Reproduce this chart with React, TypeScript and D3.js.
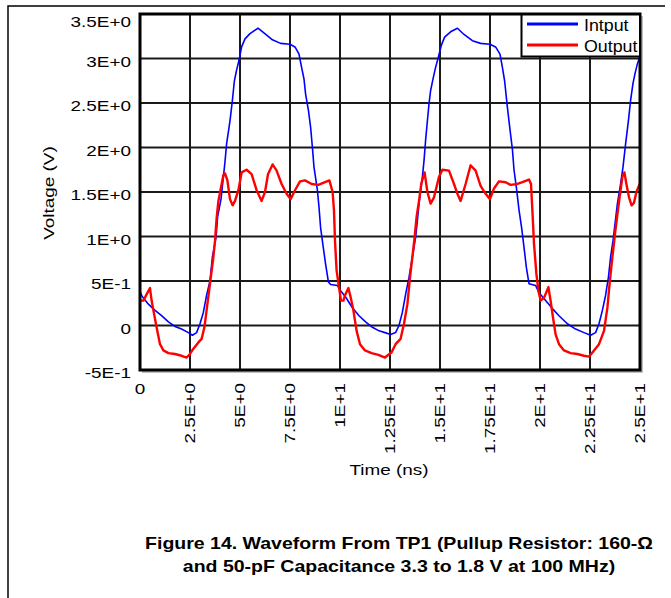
import React, { useEffect, useRef } from 'react';
import * as d3 from 'd3';

// Input waveform (ns, V)
const inputTime = [
  0, 0.1, 0.42, 0.75, 1.08, 1.42, 1.75, 2.08, 2.42, 2.62, 2.83, 3.0, 3.17, 3.33, 3.5, 3.62, 3.8, 3.88,
  4.05, 4.17, 4.25, 4.33, 4.5, 4.62, 4.72, 4.83, 4.95, 5.08, 5.25, 5.5, 5.9, 6.35, 6.62, 7.03, 7.5, 7.75,
  7.95, 8.08, 8.2, 8.28, 8.42, 8.53, 8.62, 8.7, 8.87, 8.95, 9.03, 9.15, 9.28, 9.42, 9.53, 9.87, 10.03,
  10.28, 10.62, 10.95, 11.28, 11.62, 11.95, 12.25, 12.53, 12.78, 12.95, 13.12, 13.28, 13.45, 13.62, 13.78,
  13.87, 13.95, 14.12, 14.2, 14.28, 14.37, 14.45, 14.53, 14.67, 14.78, 14.9, 15.07, 15.23, 15.53, 15.87,
  16.2, 16.62, 17.03, 17.5, 17.78, 18.0, 18.12, 18.23, 18.37, 18.5, 18.62, 18.7, 18.82, 18.95, 19.08,
  19.2, 19.32, 19.45, 19.78, 19.95, 20.28, 20.62, 20.95, 21.37, 21.78, 22.2, 22.53, 22.78, 22.95, 23.12,
  23.28, 23.42, 23.53, 23.65, 23.75, 23.87, 24.03, 24.15, 24.28, 24.42, 24.53, 24.65, 24.75, 24.87, 25.0,
];
const inputVolt = [
  0.38, 0.33, 0.24, 0.17, 0.11, 0.04, -0.01, -0.04, -0.08, -0.11, -0.08, 0.02, 0.15, 0.34, 0.5, 0.77, 0.99, 1.22,
  1.42, 1.67, 1.84, 2.04, 2.3, 2.53, 2.75, 2.87, 2.98, 3.13, 3.22, 3.28, 3.34, 3.26, 3.21, 3.17, 3.16, 3.13,
  3.05, 2.9, 2.77, 2.6, 2.42, 2.23, 2.0, 1.78, 1.52, 1.33, 1.1, 0.9, 0.69, 0.49, 0.46, 0.45, 0.39,
  0.32, 0.2, 0.11, 0.04, -0.02, -0.06, -0.08, -0.1, -0.08, 0.0, 0.15, 0.35, 0.54, 0.77, 0.99,
  1.18, 1.37, 1.67, 1.85, 2.08, 2.3, 2.49, 2.64, 2.79, 2.9, 3.0, 3.15, 3.24, 3.3, 3.34,
  3.27, 3.2, 3.17, 3.16, 3.13, 3.05, 2.9, 2.75, 2.45, 2.2, 1.98, 1.75, 1.55, 1.3, 1.1,
  0.88, 0.65, 0.47, 0.45, 0.37, 0.28, 0.19, 0.11, 0.02, -0.04, -0.08, -0.11, -0.08, 0.02, 0.17,
  0.34, 0.54, 0.77, 0.95, 1.14, 1.37, 1.59, 1.78, 2.04, 2.3, 2.53, 2.72, 2.83, 2.94, 3.02,
];

// Output waveform (ns, V)
const outputTime = [
  0, 0.17, 0.33, 0.5, 0.58, 0.67, 0.83, 1.0, 1.17, 1.42, 1.75, 2.08, 2.33, 2.5, 2.67, 2.92, 3.08, 3.22,
  3.33, 3.5, 3.67, 3.75, 3.83, 3.92, 4.05, 4.17, 4.25, 4.37, 4.5, 4.63, 4.75, 4.92, 5.08, 5.33, 5.58,
  5.83, 6.08, 6.25, 6.4, 6.63, 6.83, 7.08, 7.33, 7.53, 7.75, 8.0, 8.25, 8.58, 8.92, 9.25, 9.47, 9.63,
  9.7, 9.75, 9.83, 9.95, 10.05, 10.17, 10.25, 10.42, 10.53, 10.67, 10.83, 11.0, 11.25, 11.58, 11.92,
  12.25, 12.58, 12.78, 13.03, 13.2, 13.37, 13.5, 13.62, 13.73, 13.83, 13.95, 14.07, 14.23, 14.37, 14.53,
  14.7, 14.95, 15.12, 15.45, 15.7, 15.87, 16.03, 16.28, 16.53, 16.78, 17.03, 17.28, 17.5, 17.7, 17.95,
  18.28, 18.53, 18.87, 19.12, 19.45, 19.55, 19.62, 19.7, 19.82, 19.92, 20.03, 20.2, 20.42, 20.53, 20.65,
  20.78, 20.95, 21.2, 21.53, 21.87, 22.2, 22.45, 22.7, 22.95, 23.2, 23.37, 23.48, 23.62, 23.75, 23.87,
  23.98, 24.12, 24.22, 24.32, 24.45, 24.58, 24.7, 24.82, 25.0,
];
const outputVolt = [
  0.28, 0.28, 0.35, 0.42, 0.28, 0.17, -0.02, -0.21, -0.28, -0.31, -0.32, -0.34, -0.36, -0.32, -0.26, -0.19, -0.15, -0.02,
  0.17, 0.47, 0.77, 0.95, 1.2, 1.4, 1.55, 1.69, 1.71, 1.63, 1.42, 1.35, 1.4, 1.52, 1.72, 1.75, 1.7,
  1.52, 1.4, 1.5, 1.7, 1.81, 1.74, 1.59, 1.48, 1.42, 1.52, 1.62, 1.63, 1.59, 1.58, 1.61, 1.63, 1.5,
  1.29, 0.95, 0.62, 0.43, 0.28, 0.28, 0.34, 0.42, 0.32, 0.17, -0.06, -0.21, -0.28, -0.31, -0.33,
  -0.36, -0.3, -0.21, -0.15, 0.02, 0.24, 0.54, 0.77, 0.99, 1.22, 1.4, 1.6, 1.72, 1.5, 1.37,
  1.44, 1.67, 1.75, 1.74, 1.59, 1.48, 1.4, 1.59, 1.8, 1.74, 1.57, 1.48, 1.42, 1.54, 1.62,
  1.61, 1.58, 1.59, 1.61, 1.64, 1.59, 1.29, 0.92, 0.58, 0.39, 0.28, 0.31, 0.43, 0.28, 0.09,
  -0.1, -0.21, -0.28, -0.31, -0.32, -0.34, -0.35, -0.28, -0.21, -0.06, 0.2, 0.47, 0.77, 1.03, 1.25,
  1.44, 1.67, 1.72, 1.59, 1.44, 1.35, 1.38, 1.5, 1.6,
];

const xTicks = [0, 2.5, 5, 7.5, 10, 12.5, 15, 17.5, 20, 22.5, 25];
const xTickLabels = ['0', '2.5E+0', '5E+0', '7.5E+0', '1E+1', '1.25E+1', '1.5E+1', '1.75E+1', '2E+1', '2.25E+1', '2.5E+1'];
const yTicks = [-0.5, 0, 0.5, 1, 1.5, 2, 2.5, 3, 3.5];
const yTickLabels = ['-5E-1', '0', '5E-1', '1E+0', '1.5E+0', '2E+0', '2.5E+0', '3E+0', '3.5E+0'];

const seriesNames = ['Intput', 'Output'];
const seriesColors = ['#0000ff', '#ff0000'];

const W = 671;
const H = 598;
const FONT = 'Arial, "Liberation Sans", Helvetica, sans-serif';

const App = () => {
  const ref = useRef<SVGSVGElement>(null);

  useEffect(() => {
    const svg = d3.select(ref.current);
    svg.selectAll('*').remove();

    const left = 140, right = 640, top = 14, bottom = 370;
    const x = d3.scaleLinear().domain([0, 25]).range([left, right]);
    const y = d3.scaleLinear().domain([-0.5, 3.5]).range([bottom, top]);

    // stretched text helper (the source text is a bit wide)
    const label = (tx, ty, str, o: any = {}) => {
      svg.append('text')
        .attr('transform', `translate(${tx},${ty}) rotate(${o.rotate || 0}) scale(${o.sx || 1.22},1)`)
        .attr('text-anchor', o.anchor || 'middle')
        .attr('dominant-baseline', o.baseline || 'central')
        .attr('font-family', FONT)
        .attr('font-size', o.size || 15.5)
        .attr('font-weight', o.weight || 'normal')
        .attr('fill', '#000')
        .text(str);
    };

    // page frame
    svg.append('path')
      .attr('d', `M8,${H} V6 H665`)
      .attr('fill', 'none')
      .attr('stroke', '#000')
      .attr('stroke-width', 1.5);

    // grid
    svg.append('g').selectAll('line')
      .data(xTicks)
      .enter()
      .append('line')
      .attr('x1', d => x(d)).attr('x2', d => x(d))
      .attr('y1', top).attr('y2', bottom)
      .attr('stroke', '#1a1a1a')
      .attr('stroke-width', 2);
    svg.append('g').selectAll('line')
      .data(yTicks)
      .enter()
      .append('line')
      .attr('x1', left).attr('x2', right)
      .attr('y1', d => y(d)).attr('y2', d => y(d))
      .attr('stroke', '#1a1a1a')
      .attr('stroke-width', 2);

    // series
    const line = d3.line<number>()
      .x(d => x(d[0]))
      .y(d => y(d[1]));
    const inputData = inputTime.map((t, i) => [t, inputVolt[i]]);
    const outputData = outputTime.map((t, i) => [t, outputVolt[i]]);
    svg.append('path')
      .datum(inputData)
      .attr('d', line as any)
      .attr('fill', 'none')
      .attr('stroke', seriesColors[0])
      .attr('stroke-width', 1.6)
      .attr('stroke-linejoin', 'round');
    svg.append('path')
      .datum(outputData)
      .attr('d', line as any)
      .attr('fill', 'none')
      .attr('stroke', seriesColors[1])
      .attr('stroke-width', 2.4)
      .attr('stroke-linejoin', 'round');

    // plot border with light shadow
    svg.append('path')
      .attr('d', `M${right + 2},${top + 2} V${bottom + 2} H${left + 2}`)
      .attr('fill', 'none')
      .attr('stroke', '#aaa')
      .attr('stroke-width', 1.5);
    svg.append('rect')
      .attr('x', left).attr('y', top)
      .attr('width', right - left).attr('height', bottom - top)
      .attr('fill', 'none')
      .attr('stroke', '#000')
      .attr('stroke-width', 3);

    // y tick labels
    yTicks.forEach((v, i) => {
      label(131, Math.max(y(v) + 3, top + 8), yTickLabels[i], { anchor: 'end' });
    });

    // x tick labels
    xTicks.forEach((t, i) => {
      if (i === 0) {
        label(x(t), 389, xTickLabels[i]);
      } else {
        label(x(t), 383, xTickLabels[i], { anchor: 'end', rotate: -90 });
      }
    });

    // axis titles
    label(48.5, 193, 'Voltage (V)', { rotate: -90 });
    label(389, 470, 'Time (ns)');

    // legend
    const lx = 521.5, ly = 14.5;
    svg.append('rect')
      .attr('x', lx).attr('y', ly)
      .attr('width', right - lx).attr('height', 42)
      .attr('fill', '#fff')
      .attr('stroke', '#000')
      .attr('stroke-width', 2);
    seriesNames.forEach((name, i) => {
      const yy = 24 + i * 21;
      svg.append('line')
        .attr('x1', 527).attr('x2', 578)
        .attr('y1', yy).attr('y2', yy)
        .attr('stroke', seriesColors[i])
        .attr('stroke-width', 3);
      label(584, yy + 1.5, name, { anchor: 'start', size: 16.5, sx: 1.08 });
    });

    // caption
    label(399, 549, 'Figure 14. Waveform From TP1 (Pullup Resistor: 160-\u03A9', { size: 16, weight: 'bold', baseline: 'auto' });
    label(399, 572, 'and 50-pF Capacitance 3.3 to 1.8 V at 100 MHz)', { size: 16, weight: 'bold', baseline: 'auto' });
  }, []);

  return (
    <svg ref={ref} width={W} height={H} style={{ position: 'absolute', left: 0, top: 0, background: '#fff' }}></svg>
  );
};

export default App;
